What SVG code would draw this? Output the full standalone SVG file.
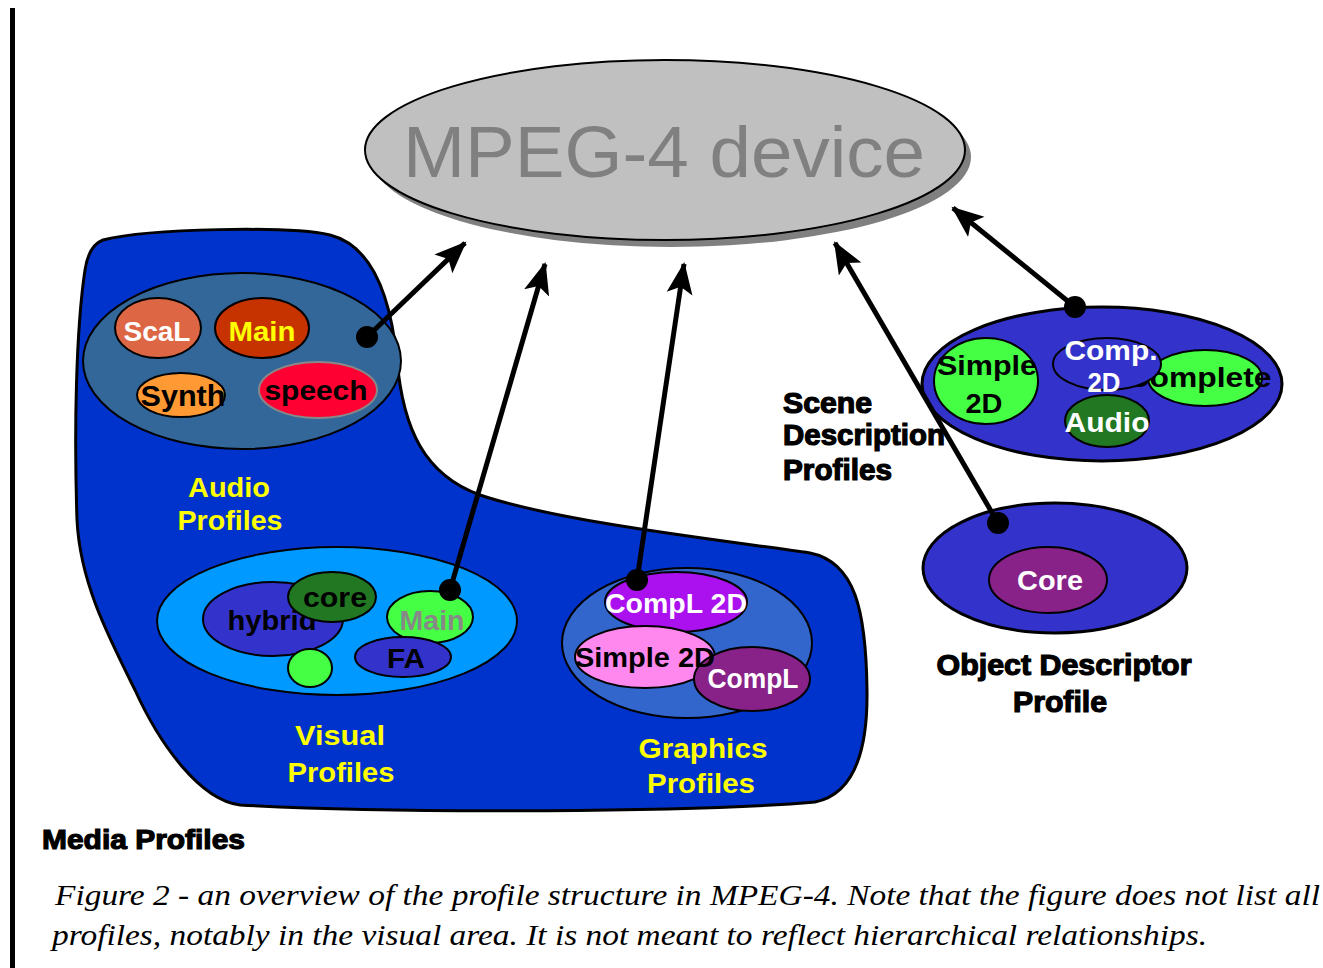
<svg xmlns="http://www.w3.org/2000/svg" width="1323" height="968" viewBox="0 0 1323 968">
  <style>
    .lbl { font-family: "Liberation Sans", "DejaVu Sans", sans-serif; font-weight: bold; text-anchor: middle; }
    .heavy { font-family: "Liberation Sans", "DejaVu Sans", sans-serif; font-weight: 900; fill: #000; stroke: #000; stroke-width: 1.2; }
    .cap { font-family: "Liberation Serif", "DejaVu Serif", serif; font-style: italic; fill: #000; font-size: 29px; }
    .ol { stroke: #000; stroke-width: 2; }
    .conn { stroke: #000; stroke-width: 5; fill: none; marker-end: url(#head); }
    .yl { fill: #ffff00; font-size: 28px; }
  </style>
  <defs>
    <marker id="head" markerUnits="userSpaceOnUse" markerWidth="34" markerHeight="30" refX="30" refY="15" orient="auto">
      <path d="M0,2 L32,15 L0,28 L7,15 z" fill="#000"/>
    </marker>
  </defs>

  <rect width="1323" height="968" fill="#fff"/>
  <!-- page border line -->
  <rect x="10" y="8" width="5" height="960" fill="#000"/>

  <!-- central device -->
  <g id="mpeg4-device">
    <ellipse cx="671" cy="157" rx="300" ry="90" fill="#808080"/>
    <ellipse cx="665" cy="150" rx="300" ry="90" fill="#c0c0c0" class="ol"/>
    <text x="664" y="177" class="lbl" font-weight="normal" font-size="72" fill="#808080" textLength="522" lengthAdjust="spacingAndGlyphs" style="font-weight:normal">MPEG-4 device</text>
  </g>

  <!-- media profiles region -->
  <g id="media-profiles">
    <path d="M 103,240 C 150,228 290,226 330,235 C 370,245 390,290 397,360 C 403,430 425,475 480,495 C 560,522 720,540 810,553 C 855,562 866,610 867,690 C 868,760 850,795 815,802 C 700,812 400,814 240,805 C 200,800 160,745 135,690 C 105,630 80,580 77,520 C 74,430 76,330 85,270 C 88,250 95,243 103,240 Z" fill="#0033cc" stroke="#000" stroke-width="3"/>
    <text x="42" y="849" class="heavy" font-size="28" textLength="203" lengthAdjust="spacingAndGlyphs">Media Profiles</text>
  </g>

  <!-- audio profiles -->
  <g id="audio-profiles">
    <ellipse cx="242" cy="361" rx="159" ry="88" fill="#336699" class="ol"/>
    <ellipse cx="158" cy="328" rx="43" ry="30" fill="#dd6644" class="ol"/>
    <text x="157" y="341" class="lbl" font-size="27" fill="#fff" textLength="67" lengthAdjust="spacingAndGlyphs">ScaL</text>
    <ellipse cx="262" cy="328" rx="47" ry="30" fill="#c63300" class="ol"/>
    <text x="262" y="341" class="lbl" font-size="27" fill="#ffff00" textLength="67" lengthAdjust="spacingAndGlyphs">Main</text>
    <ellipse cx="181" cy="395" rx="44" ry="22" fill="#ff9933" class="ol"/>
    <text x="183" y="406" class="lbl" font-size="29" fill="#000" textLength="85" lengthAdjust="spacingAndGlyphs">Synth</text>
    <ellipse cx="318" cy="390" rx="59" ry="28" fill="#ff0033" stroke="#888" stroke-width="2"/>
    <text x="316" y="400" class="lbl" font-size="28" fill="#000" textLength="103" lengthAdjust="spacingAndGlyphs">speech</text>
    <text x="229" y="497" class="lbl yl" textLength="82" lengthAdjust="spacingAndGlyphs">Audio</text>
    <text x="230" y="530" class="lbl yl" textLength="105" lengthAdjust="spacingAndGlyphs">Profiles</text>
  </g>

  <!-- visual profiles -->
  <g id="visual-profiles">
    <ellipse cx="337" cy="621" rx="180" ry="74" fill="#0099ff" class="ol"/>
    <ellipse cx="273" cy="619" rx="70" ry="37" fill="#3333cc" class="ol"/>
    <text x="272" y="630" class="lbl" font-size="27" fill="#000" textLength="89" lengthAdjust="spacingAndGlyphs">hybrid</text>
    <ellipse cx="332" cy="597" rx="44" ry="25" fill="#227722" class="ol"/>
    <text x="335" y="607" class="lbl" font-size="27" fill="#000" textLength="64" lengthAdjust="spacingAndGlyphs">core</text>
    <ellipse cx="430" cy="617" rx="43" ry="26" fill="#44ff44" class="ol"/>
    <text x="432" y="630" class="lbl" font-size="27" fill="#888" textLength="65" lengthAdjust="spacingAndGlyphs">Main</text>
    <ellipse cx="403" cy="657" rx="48" ry="20" fill="#3333cc" class="ol"/>
    <text x="406" y="668" class="lbl" font-size="27" fill="#000" textLength="38" lengthAdjust="spacingAndGlyphs">FA</text>
    <ellipse cx="310" cy="668" rx="22" ry="19" fill="#44ff44" class="ol"/>
    <text x="340" y="745" class="lbl yl" textLength="90" lengthAdjust="spacingAndGlyphs">Visual</text>
    <text x="341" y="782" class="lbl yl" textLength="107" lengthAdjust="spacingAndGlyphs">Profiles</text>
  </g>

  <!-- graphics profiles -->
  <g id="graphics-profiles">
    <ellipse cx="687" cy="643" rx="125" ry="75" fill="#3366cc" class="ol"/>
    <ellipse cx="676" cy="602" rx="71" ry="30" fill="#aa11ee" class="ol"/>
    <text x="676" y="613" class="lbl" font-size="27" fill="#fff" textLength="142" lengthAdjust="spacingAndGlyphs">CompL 2D</text>
    <ellipse cx="645" cy="657" rx="70" ry="31" fill="#ff88ee" class="ol"/>
    <ellipse cx="752" cy="679" rx="58" ry="32" fill="#882288" class="ol"/>
    <text x="645" y="667" class="lbl" font-size="27" fill="#000" textLength="140" lengthAdjust="spacingAndGlyphs">Simple 2D</text>
    <text x="753" y="688" class="lbl" font-size="27" fill="#fff" textLength="91" lengthAdjust="spacingAndGlyphs">CompL</text>
    <text x="703" y="758" class="lbl yl" textLength="129" lengthAdjust="spacingAndGlyphs">Graphics</text>
    <text x="701" y="793" class="lbl yl" textLength="108" lengthAdjust="spacingAndGlyphs">Profiles</text>
  </g>

  <!-- scene description profiles -->
  <g id="scene-description-profiles">
    <ellipse cx="1102" cy="384" rx="180" ry="77" fill="#3333cc" stroke="#000" stroke-width="3"/>
    <ellipse cx="986" cy="381" rx="52" ry="43" fill="#44ff44" class="ol"/>
    <text x="987" y="375" class="lbl" font-size="28" fill="#000" textLength="100" lengthAdjust="spacingAndGlyphs">Simple</text>
    <text x="984" y="413" class="lbl" font-size="28" fill="#000" textLength="37" lengthAdjust="spacingAndGlyphs">2D</text>
    <ellipse cx="1205" cy="378" rx="57" ry="28" fill="#44ff44" class="ol"/>
    <text x="1199" y="387" class="lbl" font-size="27" fill="#000" textLength="145" lengthAdjust="spacingAndGlyphs">Complete</text>
    <ellipse cx="1107" cy="364" rx="54" ry="26" fill="#3333cc" class="ol"/>
    <ellipse cx="1107" cy="421" rx="42" ry="26" fill="#227722" class="ol"/>
    <text x="1111" y="360" class="lbl" font-size="27" fill="#fff" textLength="93" lengthAdjust="spacingAndGlyphs">Comp.</text>
    <text x="1104" y="392" class="lbl" font-size="27" fill="#fff" textLength="33" lengthAdjust="spacingAndGlyphs">2D</text>
    <text x="1107" y="432" class="lbl" font-size="27" fill="#fff" textLength="85" lengthAdjust="spacingAndGlyphs">Audio</text>
    <text x="783" y="413" class="heavy" font-size="29" textLength="89" lengthAdjust="spacingAndGlyphs">Scene</text>
    <text x="783" y="445" class="heavy" font-size="29" textLength="162" lengthAdjust="spacingAndGlyphs">Description</text>
    <text x="783" y="480" class="heavy" font-size="29" textLength="109" lengthAdjust="spacingAndGlyphs">Profiles</text>
  </g>

  <!-- object descriptor profile -->
  <g id="object-descriptor-profile">
    <ellipse cx="1055" cy="568" rx="132" ry="65" fill="#3333cc" stroke="#000" stroke-width="3"/>
    <ellipse cx="1048" cy="580" rx="59" ry="33" fill="#882288" class="ol"/>
    <text x="1050" y="590" class="lbl" font-size="27" fill="#fff" textLength="66" lengthAdjust="spacingAndGlyphs">Core</text>
    <text x="1064" y="675" class="heavy" font-size="29" text-anchor="middle" textLength="255" lengthAdjust="spacingAndGlyphs">Object Descriptor</text>
    <text x="1060" y="712" class="heavy" font-size="29" text-anchor="middle" textLength="94" lengthAdjust="spacingAndGlyphs">Profile</text>
  </g>

  <!-- connectors to the device -->
  <g id="connectors">
    <line x1="367" y1="337" x2="465" y2="243" class="conn"/>
    <line x1="450" y1="590" x2="545" y2="264" class="conn"/>
    <line x1="637" y1="580" x2="684" y2="264" class="conn"/>
    <line x1="998" y1="523" x2="835" y2="243" class="conn"/>
    <line x1="1075" y1="307" x2="953" y2="208" class="conn"/>
    <circle cx="367" cy="337" r="11" fill="#000"/>
    <circle cx="450" cy="590" r="11" fill="#000"/>
    <circle cx="637" cy="580" r="11" fill="#000"/>
    <circle cx="998" cy="523" r="11" fill="#000"/>
    <circle cx="1075" cy="307" r="11" fill="#000"/>
  </g>

  <!-- caption -->
  <text x="55" y="905" class="cap" textLength="1265" lengthAdjust="spacingAndGlyphs">Figure 2 - an overview of the profile structure in MPEG-4. Note that the figure does not list all</text>
  <text x="52" y="945" class="cap" textLength="1155" lengthAdjust="spacingAndGlyphs">profiles, notably in the visual area. It is not meant to reflect hierarchical relationships.</text>
</svg>
